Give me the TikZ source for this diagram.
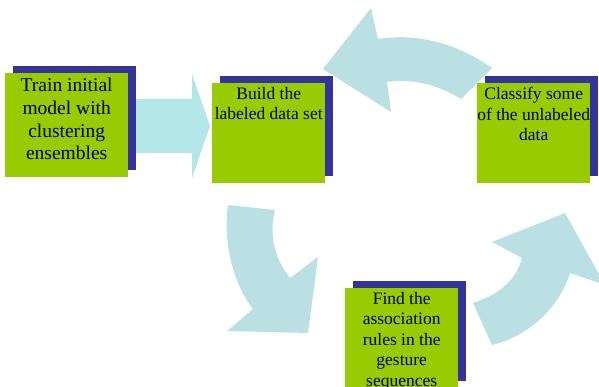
\documentclass[tikz,border=0pt]{standalone}
\usepackage{fontspec}
\setmainfont{Liberation Serif}
\usepackage{tikz}
\usetikzlibrary{shadows}

\definecolor{stagegreen}{RGB}{153,204,0}
\definecolor{shadowblue}{RGB}{51,51,153}
\definecolor{flowcyan}{RGB}{179,230,230}
\definecolor{loopblue}{RGB}{187,224,228}

\begin{document}
\begin{tikzpicture}[
        x=1pt, y=-1pt,
        stage/.style={fill=stagegreen, anchor=north west, inner sep=0pt, minimum width=113pt, minimum height=100pt,
            drop shadow={fill=shadowblue, opacity=1, shadow xshift=8pt, shadow yshift=7pt}},
        stagetext/.style={anchor=north, align=center, inner sep=4pt, font=\fontsize{17.5}{20.5}\selectfont},
        bigtext/.style={stagetext, inner sep=5pt, font=\fontsize{19.5}{22.7}\selectfont},
        flow/.style={fill=flowcyan},
        loop/.style={fill=loopblue}
    ]
    \useasboundingbox (0,0) rectangle (599,387);
    \clip (0,0) rectangle (599,387);

    % Arrows
    \fill[flow] (136,99) -- (192,99) -- (192,74) -- (210,126) -- (192,178) -- (192,153) -- (136,153) -- cycle;
    \fill[loop] (492,68) .. controls (455,42) and (415,33) .. (378,39) -- (371,8) -- (323,69) -- (391,112)
        -- (387,82) .. controls (415,78) and (440,86) .. (461,99) -- cycle;
    \fill[loop] (228,205) .. controls (223,240) and (232,282) .. (253,309) -- (227,331) -- (308,333) -- (318,257)
        -- (290,278) .. controls (277,262) and (268,238) .. (275,210) -- cycle;
    \fill[loop] (473,303) .. controls (500,294) and (516,280) .. (522,258) -- (492,242) -- (565,213) -- (605,285)
        -- (570,273) .. controls (560,306) and (530,336) .. (492,345) -- cycle;

    % Nodes
    \node[stage, minimum width=123pt, minimum height=104pt,
        label={[bigtext]north:Train initial\\model with\\clustering\\ensembles}] (train) at (5,73) {};
    \node[stage, label={[stagetext]north:Build the\\labeled data set}] (build) at (212,83) {};
    \node[stage, label={[stagetext]north:Classify some\\of the unlabeled\\data}] (classify) at (477,83) {};
    \node[stage, label={[stagetext]north:Find the\\association\\rules in the\\gesture\\sequences}] (find) at (345,288) {};

\end{tikzpicture}
\end{document}
